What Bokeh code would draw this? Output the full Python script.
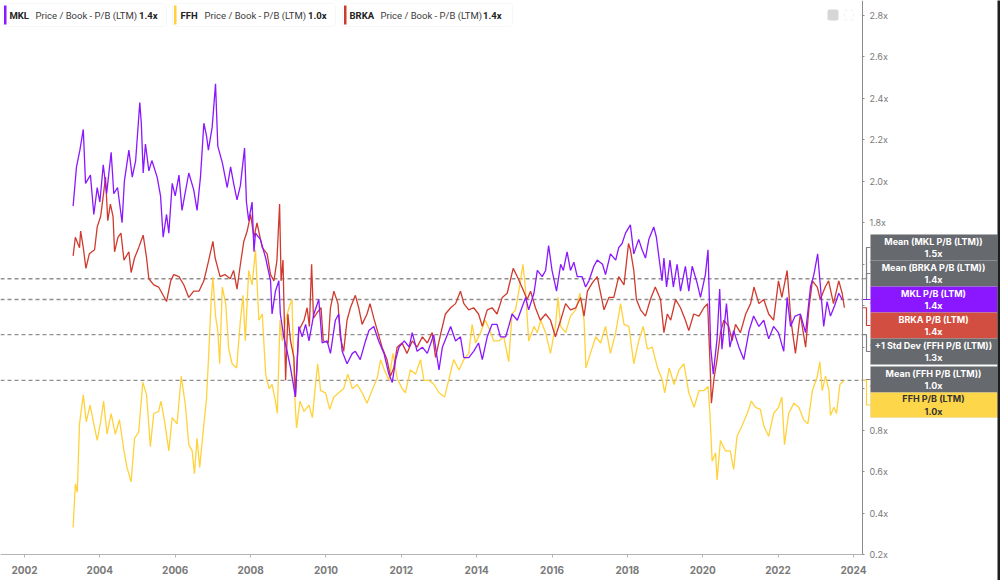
from bokeh.plotting import figure
from bokeh.models import BoxAnnotation, Label, FixedTicker, PrintfTickFormatter, Range1d, LinearAxis
from bokeh.embed import file_html
from bokeh.resources import INLINE

# ---------------- data (decimal years, P/B multiples) ----------------
mkl_t = [2003.29, 2003.38, 2003.47, 2003.56, 2003.62, 2003.75, 2003.84, 2003.93, 2004.00, 2004.09,
         2004.18, 2004.30, 2004.37, 2004.47, 2004.59, 2004.65, 2004.77, 2004.86, 2004.95, 2005.06,
         2005.10, 2005.15, 2005.21, 2005.30, 2005.38, 2005.52, 2005.61, 2005.68, 2005.77, 2005.83,
         2005.92, 2006.00, 2006.10, 2006.18, 2006.36, 2006.49, 2006.58, 2006.67, 2006.76, 2006.83,
         2006.88, 2006.98, 2007.07, 2007.13, 2007.25, 2007.38, 2007.47, 2007.55, 2007.64, 2007.73,
         2007.84, 2007.89, 2007.95, 2008.04, 2008.09, 2008.13, 2008.26, 2008.40, 2008.53, 2008.57,
         2008.66, 2008.75, 2008.79, 2008.88, 2008.97, 2009.06, 2009.19, 2009.28, 2009.37, 2009.46,
         2009.55, 2009.68, 2009.81, 2009.90, 2010.03, 2010.12, 2010.25, 2010.34, 2010.43, 2010.56,
         2010.70, 2010.78, 2010.91, 2011.05, 2011.14, 2011.27, 2011.40, 2011.54, 2011.67, 2011.76,
         2011.85, 2011.94, 2012.08, 2012.21, 2012.29, 2012.42, 2012.56, 2012.69, 2012.86, 2013.00,
         2013.09, 2013.31, 2013.44, 2013.57, 2013.66, 2013.79, 2013.92, 2014.05, 2014.15, 2014.28,
         2014.41, 2014.54, 2014.63, 2014.77, 2014.85, 2014.94, 2015.08, 2015.20, 2015.30, 2015.38,
         2015.52, 2015.61, 2015.74, 2015.83, 2015.91, 2016.00, 2016.12, 2016.23, 2016.30, 2016.40,
         2016.49, 2016.58, 2016.67, 2016.80, 2016.89, 2016.98, 2017.11, 2017.20, 2017.34, 2017.42,
         2017.55, 2017.69, 2017.77, 2017.86, 2017.95, 2018.08, 2018.17, 2018.30, 2018.39, 2018.48,
         2018.57, 2018.70, 2018.77, 2018.84, 2018.92, 2018.97, 2019.04, 2019.13, 2019.22, 2019.32,
         2019.41, 2019.54, 2019.63, 2019.72, 2019.85, 2019.94, 2020.07, 2020.14, 2020.21, 2020.28,
         2020.38, 2020.45, 2020.51, 2020.63, 2020.72, 2020.82, 2020.96, 2021.09, 2021.23, 2021.35,
         2021.49, 2021.62, 2021.75, 2021.88, 2022.01, 2022.15, 2022.24, 2022.33, 2022.45, 2022.59,
         2022.73, 2022.86, 2022.95, 2023.05, 2023.12, 2023.21, 2023.30, 2023.39, 2023.50, 2023.61,
         2023.70]
mkl_pb = [1.88, 2.07, 2.15, 2.25, 1.99, 2.03, 1.84, 1.97, 1.90, 2.08,
          1.94, 2.14, 1.94, 1.97, 1.80, 2.00, 2.15, 2.02, 2.10, 2.38,
          2.28, 2.04, 2.18, 2.05, 2.10, 2.02, 1.93, 1.73, 1.84, 1.75,
          1.99, 1.93, 2.03, 1.86, 2.04, 1.96, 1.86, 2.02, 2.28, 2.22,
          2.15, 2.26, 2.47, 2.17, 2.09, 1.97, 2.07, 1.99, 1.91, 1.98,
          2.16, 1.90, 1.81, 1.90, 1.66, 1.75, 1.72, 1.63, 1.52, 1.36,
          1.47, 1.52, 1.36, 1.25, 1.18, 1.10, 0.96, 1.30, 1.25, 1.31,
          1.23, 1.36, 1.43, 1.22, 1.23, 1.17, 1.33, 1.36, 1.18, 1.12,
          1.17, 1.18, 1.14, 1.23, 1.28, 1.30, 1.23, 1.17, 1.07, 1.03,
          1.14, 1.20, 1.23, 1.20, 1.27, 1.18, 1.20, 1.17, 1.26, 1.09,
          1.20, 1.30, 1.23, 1.25, 1.15, 1.15, 1.18, 1.22, 1.14, 1.25,
          1.31, 1.31, 1.25, 1.25, 1.30, 1.36, 1.33, 1.39, 1.44, 1.38,
          1.46, 1.57, 1.54, 1.57, 1.69, 1.57, 1.47, 1.60, 1.57, 1.66,
          1.57, 1.61, 1.54, 1.54, 1.49, 1.52, 1.59, 1.62, 1.60, 1.55,
          1.65, 1.62, 1.68, 1.70, 1.75, 1.79, 1.65, 1.72, 1.67, 1.63,
          1.72, 1.78, 1.73, 1.63, 1.52, 1.63, 1.49, 1.62, 1.49, 1.60,
          1.47, 1.59, 1.47, 1.59, 1.51, 1.44, 1.55, 1.67, 1.20, 1.07,
          1.24, 1.48, 1.19, 1.41, 1.20, 1.28, 1.20, 1.14, 1.28, 1.35,
          1.30, 1.33, 1.24, 1.30, 1.27, 1.18, 1.44, 1.30, 1.35, 1.36,
          1.27, 1.49, 1.55, 1.65, 1.50, 1.30, 1.42, 1.35, 1.40, 1.46,
          1.43]

brka_t = [2003.29, 2003.35, 2003.46, 2003.49, 2003.56, 2003.63, 2003.72, 2003.86, 2003.93, 2004.02,
          2004.09, 2004.15, 2004.21, 2004.28, 2004.35, 2004.39, 2004.48, 2004.56, 2004.64, 2004.77,
          2004.83, 2004.92, 2005.03, 2005.15, 2005.24, 2005.30, 2005.43, 2005.56, 2005.65, 2005.77,
          2005.88, 2005.96, 2006.10, 2006.23, 2006.36, 2006.49, 2006.63, 2006.76, 2006.89, 2007.00,
          2007.06, 2007.19, 2007.32, 2007.46, 2007.55, 2007.64, 2007.73, 2007.82, 2007.91, 2008.00,
          2008.09, 2008.17, 2008.31, 2008.44, 2008.53, 2008.62, 2008.70, 2008.77, 2008.81, 2008.86,
          2008.93, 2008.99, 2009.06, 2009.15, 2009.19, 2009.28, 2009.42, 2009.50, 2009.56, 2009.62,
          2009.67, 2009.78, 2009.87, 2009.93, 2010.06, 2010.12, 2010.21, 2010.32, 2010.38, 2010.47,
          2010.56, 2010.65, 2010.78, 2010.87, 2010.96, 2011.09, 2011.17, 2011.27, 2011.38, 2011.49,
          2011.62, 2011.71, 2011.80, 2011.89, 2012.02, 2012.15, 2012.29, 2012.42, 2012.56, 2012.69,
          2012.82, 2012.91, 2013.04, 2013.17, 2013.31, 2013.44, 2013.57, 2013.66, 2013.79, 2013.92,
          2014.05, 2014.15, 2014.28, 2014.41, 2014.54, 2014.68, 2014.81, 2014.97, 2015.08, 2015.20,
          2015.34, 2015.43, 2015.56, 2015.69, 2015.83, 2015.96, 2016.09, 2016.23, 2016.36, 2016.49,
          2016.63, 2016.76, 2016.85, 2016.94, 2017.07, 2017.20, 2017.29, 2017.38, 2017.51, 2017.64,
          2017.77, 2017.91, 2018.03, 2018.08, 2018.17, 2018.24, 2018.35, 2018.48, 2018.61, 2018.74,
          2018.88, 2018.97, 2019.06, 2019.15, 2019.28, 2019.41, 2019.54, 2019.63, 2019.76, 2019.90,
          2020.03, 2020.13, 2020.19, 2020.23, 2020.30, 2020.38, 2020.47, 2020.56, 2020.69, 2020.78,
          2020.87, 2021.00, 2021.14, 2021.27, 2021.36, 2021.49, 2021.62, 2021.75, 2021.88, 2022.01,
          2022.10, 2022.24, 2022.34, 2022.46, 2022.59, 2022.73, 2022.82, 2022.91, 2023.04, 2023.12,
          2023.25, 2023.34, 2023.47, 2023.61, 2023.70, 2023.76]
brka_pb = [1.64, 1.73, 1.68, 1.76, 1.68, 1.58, 1.65, 1.67, 1.78, 1.83,
           1.93, 2.02, 1.81, 1.89, 1.83, 1.66, 1.73, 1.75, 1.62, 1.66,
           1.56, 1.63, 1.68, 1.74, 1.63, 1.53, 1.50, 1.49, 1.46, 1.42,
           1.52, 1.55, 1.54, 1.50, 1.44, 1.47, 1.47, 1.52, 1.62, 1.71,
           1.63, 1.54, 1.55, 1.53, 1.57, 1.48, 1.60, 1.71, 1.76, 1.84,
           1.73, 1.80, 1.68, 1.65, 1.55, 1.52, 1.62, 1.89, 1.52, 1.62,
           1.04, 1.36, 1.23, 1.15, 0.96, 1.28, 1.33, 1.39, 1.30, 1.60,
           1.34, 1.37, 1.39, 1.23, 1.22, 1.39, 1.47, 1.41, 1.25, 1.18,
           1.33, 1.39, 1.45, 1.39, 1.31, 1.36, 1.41, 1.34, 1.27, 1.20,
           1.14, 1.06, 1.10, 1.20, 1.22, 1.17, 1.23, 1.20, 1.25, 1.22,
           1.27, 1.15, 1.26, 1.36, 1.39, 1.41, 1.47, 1.41, 1.38, 1.39,
           1.36, 1.30, 1.38, 1.39, 1.36, 1.44, 1.46, 1.58, 1.54, 1.49,
           1.43, 1.47, 1.39, 1.33, 1.36, 1.33, 1.25, 1.33, 1.41, 1.38,
           1.39, 1.44, 1.35, 1.47, 1.51, 1.54, 1.46, 1.38, 1.44, 1.44,
           1.54, 1.50, 1.70, 1.67, 1.57, 1.43, 1.38, 1.35, 1.43, 1.49,
           1.43, 1.27, 1.36, 1.33, 1.43, 1.39, 1.33, 1.28, 1.36, 1.35,
           1.39, 1.41, 1.14, 0.93, 1.05, 1.14, 1.27, 1.33, 1.30, 1.23,
           1.31, 1.27, 1.36, 1.41, 1.49, 1.41, 1.43, 1.36, 1.33, 1.52,
           1.44, 1.57, 1.33, 1.17, 1.36, 1.20, 1.39, 1.52, 1.49, 1.43,
           1.49, 1.52, 1.41, 1.52, 1.46, 1.39]

ffh_t = [2003.29, 2003.35, 2003.40, 2003.46, 2003.56, 2003.64, 2003.74, 2003.84, 2003.93, 2004.02,
         2004.10, 2004.19, 2004.30, 2004.41, 2004.52, 2004.64, 2004.72, 2004.83, 2004.92, 2005.03,
         2005.14, 2005.24, 2005.34, 2005.43, 2005.56, 2005.62, 2005.72, 2005.83, 2005.92, 2006.05,
         2006.16, 2006.27, 2006.36, 2006.45, 2006.51, 2006.58, 2006.65, 2006.74, 2006.83, 2006.89,
         2006.95, 2007.00, 2007.07, 2007.13, 2007.18, 2007.25, 2007.34, 2007.42, 2007.51, 2007.63,
         2007.73, 2007.80, 2007.86, 2007.95, 2008.04, 2008.13, 2008.22, 2008.31, 2008.40, 2008.49,
         2008.57, 2008.66, 2008.71, 2008.78, 2008.84, 2008.93, 2009.02, 2009.10, 2009.16, 2009.22,
         2009.31, 2009.42, 2009.55, 2009.64, 2009.73, 2009.78, 2009.86, 2009.99, 2010.10, 2010.21,
         2010.34, 2010.47, 2010.58, 2010.70, 2010.83, 2010.96, 2011.09, 2011.22, 2011.36, 2011.45,
         2011.55, 2011.67, 2011.78, 2011.89, 2012.02, 2012.11, 2012.24, 2012.38, 2012.51, 2012.60,
         2012.73, 2012.87, 2013.00, 2013.15, 2013.27, 2013.39, 2013.53, 2013.66, 2013.79, 2013.88,
         2013.97, 2014.10, 2014.23, 2014.35, 2014.45, 2014.59, 2014.72, 2014.85, 2014.94, 2015.03,
         2015.12, 2015.23, 2015.30, 2015.38, 2015.52, 2015.61, 2015.70, 2015.83, 2015.96, 2016.09,
         2016.16, 2016.23, 2016.36, 2016.49, 2016.63, 2016.74, 2016.85, 2016.90, 2017.02, 2017.16,
         2017.29, 2017.42, 2017.55, 2017.69, 2017.82, 2017.91, 2018.04, 2018.17, 2018.30, 2018.42,
         2018.53, 2018.66, 2018.80, 2018.93, 2018.99, 2019.11, 2019.24, 2019.37, 2019.50, 2019.63,
         2019.77, 2019.90, 2020.03, 2020.14, 2020.19, 2020.25, 2020.34, 2020.38, 2020.47, 2020.60,
         2020.73, 2020.82, 2020.91, 2021.04, 2021.18, 2021.29, 2021.40, 2021.53, 2021.62, 2021.75,
         2021.88, 2022.01, 2022.10, 2022.17, 2022.28, 2022.42, 2022.55, 2022.68, 2022.79, 2022.91,
         2023.04, 2023.11, 2023.17, 2023.26, 2023.35, 2023.39, 2023.48, 2023.55, 2023.64, 2023.76]
ffh_pb = [0.33, 0.54, 0.50, 0.83, 0.97, 0.84, 0.92, 0.83, 0.75, 0.84,
          0.94, 0.78, 0.88, 0.78, 0.85, 0.70, 0.62, 0.55, 0.76, 0.79,
          1.03, 0.97, 0.72, 0.88, 0.89, 0.94, 0.84, 0.70, 0.86, 0.83,
          1.06, 0.92, 0.73, 0.70, 0.59, 0.76, 0.62, 0.79, 0.95, 1.17,
          1.41, 1.54, 1.35, 1.28, 1.12, 1.49, 1.41, 1.19, 1.12, 1.10,
          1.33, 1.45, 1.23, 1.57, 1.50, 1.67, 1.33, 1.36, 1.07, 1.00,
          1.02, 0.94, 0.88, 1.33, 1.23, 1.33, 1.39, 1.43, 1.00, 0.81,
          0.94, 0.89, 0.92, 0.86, 1.03, 1.12, 0.99, 0.98, 0.90, 0.96,
          0.98, 1.00, 1.07, 1.00, 1.02, 0.98, 0.93, 0.99, 1.05, 1.14,
          1.09, 1.04, 1.17, 1.05, 1.00, 0.98, 1.09, 1.07, 1.14, 1.04,
          1.04, 1.02, 0.98, 0.96, 1.05, 1.14, 1.09, 1.14, 1.17, 1.31,
          1.22, 1.27, 1.33, 1.28, 1.23, 1.23, 1.25, 1.13, 1.36, 1.38,
          1.47, 1.60, 1.47, 1.23, 1.30, 1.27, 1.33, 1.27, 1.17, 1.30,
          1.44, 1.30, 1.27, 1.35, 1.38, 1.46, 1.33, 1.10, 1.17, 1.25,
          1.22, 1.30, 1.17, 1.27, 1.41, 1.31, 1.30, 1.12, 1.23, 1.30,
          1.19, 1.20, 1.10, 1.04, 0.98, 1.10, 1.02, 1.09, 1.12, 0.98,
          0.91, 0.99, 0.99, 1.01, 0.88, 0.65, 0.69, 0.56, 0.75, 0.70,
          0.70, 0.61, 0.77, 0.82, 0.88, 0.94, 0.91, 0.90, 0.82, 0.77,
          0.88, 0.91, 0.96, 0.73, 0.88, 0.93, 0.91, 0.85, 0.83, 0.99,
          1.06, 1.13, 0.99, 1.06, 0.99, 0.87, 0.91, 0.88, 1.02, 1.04]

# reference levels: Mean MKL, Mean BRKA, +1 Std Dev FFH, Mean FFH
ref_levels = [1.53, 1.43, 1.26, 1.04]
year_ticks = [2002, 2004, 2006, 2008, 2010, 2012, 2014, 2016, 2018, 2020, 2022, 2024]
pb_ticks = [0.2, 0.4, 0.6, 0.8, 1.0, 1.2, 1.4, 1.6, 1.8, 2.0, 2.2, 2.4, 2.6, 2.8]

C_MKL = "#8a17ff"
C_FFH = "#ffd23c"
C_BRKA = "#cf3a2e"
C_GRAY = "#66696e"
FONT = "Inter"
LFONT = "Roboto"

# ---------------- geometry helpers (pixel -> data) ----------------
PXY = 37.68                      # pixels per year
XS = 2002 - 24 / PXY             # value at left edge of canvas
XE = XS + 1000 / PXY             # value at right edge of canvas
AX = XS + 862 / PXY              # where the value axis sits
PXV = 554 / (2.872 - 0.2)        # pixels per 1.0x
YE = 2.872                       # value at top edge
YB = YE - 580 / PXV              # value at bottom edge of canvas


def dx(px):
    return XS + px / PXY


def dy(py):
    return YE - py / PXV


p = figure(width=1000, height=580, x_range=Range1d(XS, XE), y_range=Range1d(YB, YE),
           x_axis_location=None, y_axis_location=None, output_backend="svg",
           toolbar_location=None, min_border=0)
p.outline_line_color = None
p.grid.visible = False
p.background_fill_color = "white"
p.border_fill_color = "white"

# time axis, fixed at the 0.2x floor
xax = LinearAxis(fixed_location=0.2, bounds=(XS, AX), ticker=FixedTicker(ticks=year_ticks),
                 formatter=PrintfTickFormatter(format="%d"))
xax.axis_line_color = "#b5b5b5"
xax.major_tick_line_color = "#b5b5b5"
xax.major_tick_out = 3
xax.major_tick_in = 0
xax.minor_tick_line_color = None
xax.major_label_text_font = FONT
xax.major_label_text_font_size = "10px"
xax.major_label_text_font_style = "bold"
xax.major_label_text_color = "#7a7a7a"
xax.major_label_standoff = 8
p.add_layout(xax, "below")

# value axis, fixed at the end of the time span, labels to its right
yax = LinearAxis(fixed_location=AX, bounds=(0.2, YE), ticker=FixedTicker(ticks=pb_ticks),
                 formatter=PrintfTickFormatter(format="%.1fx"))
yax.axis_line_color = "#8c8c8c"
yax.major_tick_line_color = "#8c8c8c"
yax.major_tick_out = 2
yax.major_tick_in = 0
yax.minor_tick_line_color = None
yax.major_label_text_font = FONT
yax.major_label_text_font_size = "9px"
yax.major_label_text_color = "#7a7a7a"
yax.major_label_standoff = 5
p.add_layout(yax, "right")

# reference dashed lines (end at the value axis)
p.segment(x0=[XS] * len(ref_levels), x1=[AX] * len(ref_levels), y0=ref_levels, y1=ref_levels,
          line_color="#8f8f8f", line_dash="4 3", line_width=1.3)

# series
p.line(ffh_t, ffh_pb, line_color=C_FFH, line_width=1.3)
p.line(brka_t, brka_pb, line_color=C_BRKA, line_width=1.3)
p.line(mkl_t, mkl_pb, line_color=C_MKL, line_width=1.3)

# ---------------- legend chips at top ----------------
legend_items = [
    ("MKL", "1.4x", C_MKL, 2, 166, 9, 35, 157),
    ("FFH", "1.0x", C_FFH, 172, 335, 180, 204, 326),
    ("BRKA", "1.4x", C_BRKA, 342, 512, 349, 380, 501),
]
for name, val, col, x0, x1, xn, xd, xv in legend_items:
    p.add_layout(BoxAnnotation(left=dx(x0), right=dx(x1), top=dy(3), bottom=dy(26),
                               fill_color="white", fill_alpha=1, line_color="#e4e4e4",
                               line_width=1, border_radius=3, level="overlay"))
    p.add_layout(BoxAnnotation(left=dx(x0 + 1.5), right=dx(x0 + 4), top=dy(5), bottom=dy(24),
                               fill_color=col, fill_alpha=1, line_color=None, level="overlay"))
    for xx, tx, st, cl, al in [(xn, name, "bold", "#222222", "left"),
                               (xd, "Price / Book - P/B (LTM)", "normal", "#3a3a3a", "left"),
                               (xv, val, "bold", "#222222", "right")]:
        p.add_layout(Label(x=dx(xx), y=dy(15), text=tx, text_font=LFONT, text_font_size="9.5px",
                           text_font_style=st, text_color=cl, text_baseline="middle",
                           text_align=al, level="overlay"))

# small toolbar-like icons at top right of the chart
p.add_layout(BoxAnnotation(left=dx(827), right=dx(838), top=dy(9), bottom=dy(20),
                           fill_color="#d6d6d6", fill_alpha=1, line_color=None,
                           border_radius=2, level="overlay"))
p.add_layout(BoxAnnotation(left=dx(844), right=dx(853), top=dy(10), bottom=dy(19),
                           fill_color=None, fill_alpha=0, line_color="#dcdcdc",
                           line_width=1.5, line_dash="3 3", level="overlay"))

# ---------------- value boxes on the right ----------------
end_mkl, end_brka, end_ffh = mkl_pb[-1], brka_pb[-1], ffh_pb[-1]
boxes = [
    ("Mean (MKL P/B (LTM))\n1.5x", C_GRAY, "white", "#7d7f83", ref_levels[0], 234, 260),
    ("Mean (BRKA P/B (LTM))\n1.4x", C_GRAY, "white", "#7d7f83", ref_levels[1], 260, 286),
    ("MKL P/B (LTM)\n1.4x", C_MKL, "white", C_MKL, end_mkl, 286, 312),
    ("BRKA P/B (LTM)\n1.4x", "#d24e40", "white", C_BRKA, end_brka, 312, 338),
    ("+1 Std Dev (FFH P/B (LTM))\n1.3x", C_GRAY, "white", "#7d7f83", ref_levels[2], 338, 364),
    ("Mean (FFH P/B (LTM))\n1.0x", C_GRAY, "white", "#7d7f83", ref_levels[3], 366, 392),
    ("FFH P/B (LTM)\n1.0x", "#fdd64a", "#333333", C_FFH, end_ffh, 392, 417),
]
# elbow connectors from the level on the axis to each box
xs_conn, ys_conn, cs_conn = [], [], []
for txt, bg, fg, lc, lev, t, b in boxes:
    mid = dy((t + b) / 2)
    xs_conn.append([AX, dx(866), dx(866), dx(870)])
    ys_conn.append([lev, lev, mid, mid])
    cs_conn.append(lc)
p.multi_line(xs_conn, ys_conn, line_color=cs_conn, line_width=1.2)

for txt, bg, fg, lc, lev, t, b in boxes:
    p.add_layout(BoxAnnotation(left=dx(870), right=dx(997), top=dy(t), bottom=dy(b),
                               fill_color=bg, fill_alpha=1, line_color="#a0a0a0",
                               line_width=0.5, level="overlay"))
for txt, bg, fg, lc, lev, t, b in boxes:
    p.add_layout(Label(x=dx(933), y=dy((t + b) / 2), text=txt, text_font=FONT,
                       text_font_size="9px", text_font_style="bold", text_color=fg,
                       text_align="center", text_baseline="middle", text_line_height=1.1,
                       level="overlay"))

# dark right edge of the screenshot
p.add_layout(BoxAnnotation(left=dx(997), right=dx(1001), top=dy(-2), bottom=dy(582),
                           fill_color="#1e1e1e", fill_alpha=1, line_color=None, level="overlay"))

open("out.html", "w").write(file_html(p, INLINE))
